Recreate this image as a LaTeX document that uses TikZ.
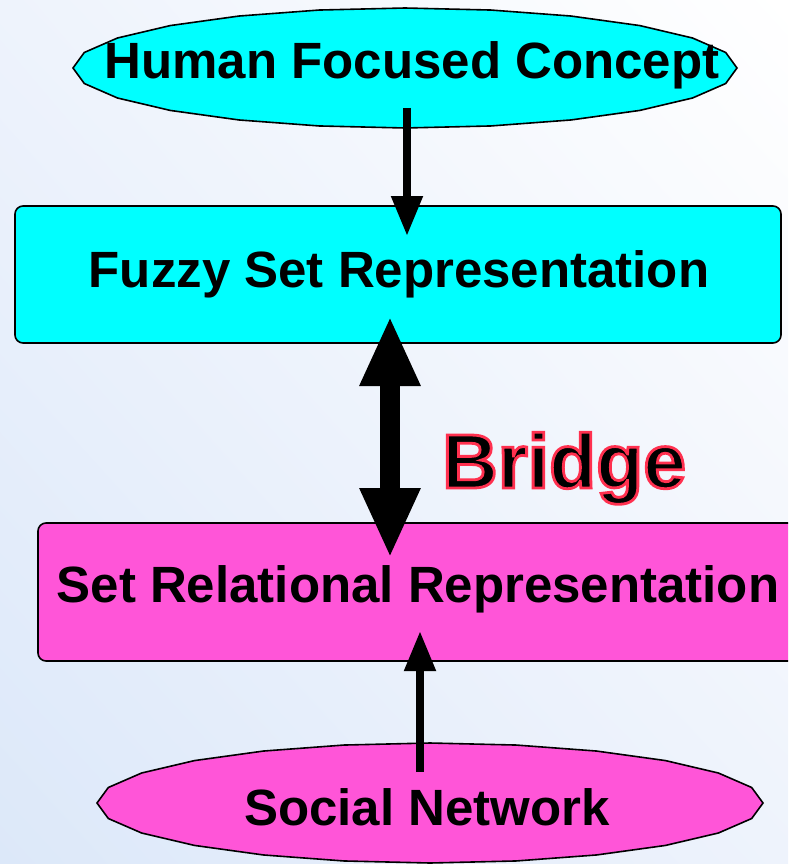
\documentclass[tikz,border=0pt]{standalone}
\usepackage{fontspec}
\setmainfont{Liberation Sans}
\usetikzlibrary{arrows.meta,shapes.geometric,shadings}
\definecolor{cyanfill}{HTML}{00FFFF}
\definecolor{pinkfill}{HTML}{FF55D8}
\definecolor{bgblue}{HTML}{DCE8F9}
\definecolor{bgmid}{HTML}{EEF3FC}
% filled glyphs with a red stroked outline (text render mode 2)
\newcommand{\redoutline}[1]{\special{pdf:code q 2 Tr 1 0.19 0.31 RG 2.8 w}#1\special{pdf:code Q}}
\tikzset{
  lbl/.style={font=\fontsize{51}{60}\selectfont\bfseries, inner sep=0pt, anchor=base},
  boxnode/.style={draw=black, line width=1.6pt, rounded corners=8pt, inner sep=0pt},
  ovalline/.style={draw=black, line width=1.6pt},
  thinarrow/.style={line width=8pt, -{Triangle[width=30pt,length=40pt]}},
  bridgearrow/.style={line width=20pt, {Triangle[width=56pt,length=70pt]}-{Triangle[width=56pt,length=70pt]}},
  bridgefont/.style={font=\fontsize{77}{90}\selectfont\bfseries, inner sep=0pt, anchor=base west}
}
\begin{document}
\begin{tikzpicture}[x=1pt,y=-1pt]
  \useasboundingbox (0,0) rectangle (788,864);
  \clip (0,0) rectangle (788,864);
  % backdrop
  \shade[upper left=bgmid, upper right=white, lower left=bgblue, lower right=bgmid]
    (0,0) rectangle (788,864);

  % top oval (polygonal outline)
  \draw[ovalline, fill=cyanfill] plot[samples=25, domain=0:360]
    ({405+332*cos(\x)}, {68+60*sin(\x)}) -- cycle;
  \node[ellipse, minimum width=664pt, minimum height=120pt, inner sep=0pt] (hfc) at (405,68) {};
  \node[lbl] (hfct) at (412,79) {Human Focused Concept};

  % fuzzy set box
  \node[boxnode, fill=cyanfill, minimum width=766pt, minimum height=137pt] (fuzzy) at (398,274.5) {};
  \node[lbl] (fuzzyt) at (399,287) {Fuzzy Set Representation};

  % set relational box
  \node[boxnode, fill=pinkfill, minimum width=770pt, minimum height=138pt] (setrel) at (423,592) {};
  \node[lbl] (setrelt) at (418,602) {Set Relational Representation};

  % bottom oval (polygonal outline)
  \draw[ovalline, fill=pinkfill] plot[samples=25, domain=0:360]
    ({430+333*cos(\x)}, {803+60*sin(\x)}) -- cycle;
  \node[ellipse, minimum width=666pt, minimum height=120pt, inner sep=0pt] (soc) at (430,803) {};
  \node[lbl] (soct) at (427,825) {Social Network};

  % connectors
  \coordinate (a1s) at (407,108);
  \coordinate (a1e) at (407,236);
  \draw[thinarrow] (a1s) -- (a1e);

  \coordinate (b1) at (390,316);
  \coordinate (b2) at (390,558);
  \draw[bridgearrow] (b1) -- (b2);

  \coordinate (a3s) at (420,772);
  \coordinate (a3e) at (420,631);
  \draw[thinarrow] (a3s) -- (a3e);

  % outlined label
  \node[bridgefont, text=black] (bridge) at (442,488) {\redoutline{Bridge}};
\end{tikzpicture}
\end{document}
